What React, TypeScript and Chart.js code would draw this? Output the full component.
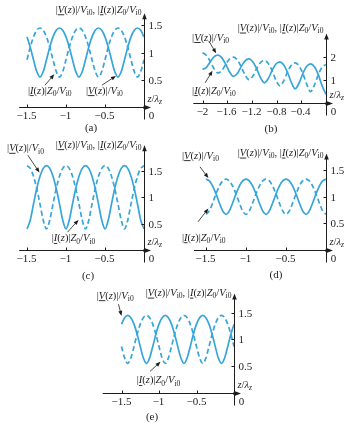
import { useEffect, useRef } from 'react';
import { Chart, registerables } from 'chart.js';

Chart.register(...registerables);

// ---------- data ----------
// z / lambda_z sample positions (step lambda/24) for panels a, c, d, e
const Z24 = [-1.5, -1.4583, -1.4167, -1.375, -1.3333, -1.2917, -1.25, -1.2083, -1.1667, -1.125, -1.0833, -1.0417,
  -1, -0.9583, -0.9167, -0.875, -0.8333, -0.7917, -0.75, -0.7083, -0.6667, -0.625, -0.5833, -0.5417,
  -0.5, -0.4583, -0.4167, -0.375, -0.3333, -0.2917, -0.25, -0.2083, -0.1667, -0.125, -0.0833, -0.0417, 0];
// z / lambda_z sample positions (step lambda/16) for panel b
const Z16 = [-2, -1.9375, -1.875, -1.8125, -1.75, -1.6875, -1.625, -1.5625, -1.5, -1.4375, -1.375, -1.3125,
  -1.25, -1.1875, -1.125, -1.0625, -1, -0.9375, -0.875, -0.8125, -0.75, -0.6875, -0.625, -0.5625,
  -0.5, -0.4375, -0.375, -0.3125, -0.25, -0.1875, -0.125, -0.0625, 0];

const A_V = [1.286, 1.097, 0.867, 0.65, 0.55, 0.65, 0.867, 1.097, 1.286, 1.408, 1.45, 1.408,
  1.286, 1.097, 0.867, 0.65, 0.55, 0.65, 0.867, 1.097, 1.286, 1.408, 1.45, 1.408,
  1.286, 1.097, 0.867, 0.65, 0.55, 0.65, 0.867, 1.097, 1.286, 1.408, 1.45, 1.408, 1.286];
const A_I = [0.867, 1.097, 1.286, 1.408, 1.45, 1.408, 1.286, 1.097, 0.867, 0.65, 0.55, 0.65,
  0.867, 1.097, 1.286, 1.408, 1.45, 1.408, 1.286, 1.097, 0.867, 0.65, 0.55, 0.65,
  0.867, 1.097, 1.286, 1.408, 1.45, 1.408, 1.286, 1.097, 0.867, 0.65, 0.55, 0.65, 0.867];

const B_V = [1.439, 1.5295, 1.7751, 1.9916, 2.0611, 1.9422, 1.6618, 1.3247, 1.1358, 1.261, 1.5595, 1.8103,
  1.894, 1.7717, 1.4681, 1.0837, 0.8572, 1.0293, 1.3875, 1.6713, 1.768, 1.6429, 1.3178, 0.881,
  0.5971, 0.8371, 1.2592, 1.5724, 1.6802, 1.5537, 1.2119, 0.7249, 0.35];
const B_I = [2.161, 2.0439, 1.7751, 1.4589, 1.2839, 1.3907, 1.6618, 1.8955, 1.9723, 1.8516, 1.5595, 1.1996,
  0.9938, 1.1405, 1.4681, 1.7357, 1.8261, 1.7022, 1.3875, 0.9772, 0.7252, 0.9278, 1.3178, 1.617,
  1.7194, 1.5935, 1.2592, 0.7962, 0.4723, 0.7588, 1.2119, 1.5375, 1.65];

const C_V = [0.4, 0.566, 0.872, 1.166, 1.4, 1.549, 1.6, 1.549, 1.4, 1.166, 0.872, 0.566,
  0.4, 0.566, 0.872, 1.166, 1.4, 1.549, 1.6, 1.549, 1.4, 1.166, 0.872, 0.566,
  0.4, 0.566, 0.872, 1.166, 1.4, 1.549, 1.6, 1.549, 1.4, 1.166, 0.872, 0.566, 0.4];
const C_I = [1.6, 1.549, 1.4, 1.166, 0.872, 0.566, 0.4, 0.566, 0.872, 1.166, 1.4, 1.549,
  1.6, 1.549, 1.4, 1.166, 0.872, 0.566, 0.4, 0.566, 0.872, 1.166, 1.4, 1.549,
  1.6, 1.549, 1.4, 1.166, 0.872, 0.566, 0.4, 0.566, 0.872, 1.166, 1.4, 1.549, 1.6];

const D_V = [1.33, 1.296, 1.2, 1.053, 0.883, 0.733, 0.67, 0.733, 0.883, 1.053, 1.2, 1.296,
  1.33, 1.296, 1.2, 1.053, 0.883, 0.733, 0.67, 0.733, 0.883, 1.053, 1.2, 1.296,
  1.33, 1.296, 1.2, 1.053, 0.883, 0.733, 0.67, 0.733, 0.883, 1.053, 1.2, 1.296, 1.33];
const D_I = [0.67, 0.733, 0.883, 1.053, 1.2, 1.296, 1.33, 1.296, 1.2, 1.053, 0.883, 0.733,
  0.67, 0.733, 0.883, 1.053, 1.2, 1.296, 1.33, 1.296, 1.2, 1.053, 0.883, 0.733,
  0.67, 0.733, 0.883, 1.053, 1.2, 1.296, 1.33, 1.296, 1.2, 1.053, 0.883, 0.733, 0.67];

const E_V = [1.286, 1.408, 1.45, 1.408, 1.286, 1.097, 0.867, 0.65, 0.55, 0.65, 0.867, 1.097,
  1.286, 1.408, 1.45, 1.408, 1.286, 1.097, 0.867, 0.65, 0.55, 0.65, 0.867, 1.097,
  1.286, 1.408, 1.45, 1.408, 1.286, 1.097, 0.867, 0.65, 0.55, 0.65, 0.867, 1.097, 1.286];
const E_I = [0.867, 0.65, 0.55, 0.65, 0.867, 1.097, 1.286, 1.408, 1.45, 1.408, 1.286, 1.097,
  0.867, 0.65, 0.55, 0.65, 0.867, 1.097, 1.286, 1.408, 1.45, 1.408, 1.286, 1.097,
  0.867, 0.65, 0.55, 0.65, 0.867, 1.097, 1.286, 1.408, 1.45, 1.408, 1.286, 1.097, 0.867];

const X_TICKS_15 = [-1.5, -1, -0.5];
const X_TICKS_B = [-2, -1.6, -1.2, -0.8, -0.4];
const Y_TICKS_15 = [0.5, 1, 1.5];
const Y_TICKS_B = [1, 2];
const CAPTIONS = ['(a)', '(b)', '(c)', '(d)', '(e)'];

// ---------- style ----------
const W = 355;
const H = 425;
const BLUE = '#36a5d9';
const INK = '#1d1d1d';
const SERIF = '"Liberation Serif", "Times New Roman", serif';

type Seg = { t: string; it?: boolean; sub?: boolean; ul?: boolean };
type Pt = [number, number];
type Lab = { at: Pt; tail: Pt; head: Pt };

const V_LABEL: Seg[] = [
  { t: '|' }, { t: 'V', it: true, ul: true }, { t: '(' }, { t: 'z', it: true }, { t: ')|/' },
  { t: 'V', it: true }, { t: 'i0', sub: true },
];
const I_LABEL: Seg[] = [
  { t: '|' }, { t: 'I', it: true, ul: true }, { t: '(' }, { t: 'z', it: true }, { t: ')|' },
  { t: 'Z', it: true }, { t: '0', sub: true }, { t: '/' }, { t: 'V', it: true }, { t: 'i0', sub: true },
];
const TITLE: Seg[] = [...V_LABEL, { t: ', ' }, ...I_LABEL];
const ZLAB: Seg[] = [{ t: 'z', it: true }, { t: '/' }, { t: '\u03bb', it: true }, { t: 'z', it: true, sub: true }];

type Panel = {
  x0: number; kx: number; y0: number; ky: number; xmin: number; ymax: number; titleDy: number;
  z: number[]; v: number[]; i: number[]; xt: number[]; yt: number[];
  cap: Pt; vLab: Lab; iLab: Lab;
};

const PANELS: Panel[] = [
  {
    x0: 144, kx: 78, y0: 107, ky: 54.5, xmin: -1.6, ymax: 1.72, titleDy: -4, z: Z24, v: A_V, i: A_I,
    xt: X_TICKS_15, yt: Y_TICKS_15, cap: [91, 128],
    vLab: { at: [-0.744, 0.31], tail: [-0.54, 0.4], head: [-0.36, 0.57] },
    iLab: { at: [-1.487, 0.31], tail: [-1.27, 0.4], head: [-1.15, 0.6] },
  },
  {
    x0: 326, kx: 61.7, y0: 102.5, ky: 23, xmin: -2.15, ymax: 3.0, titleDy: -6, z: Z16, v: B_V, i: B_I,
    xt: X_TICKS_B, yt: Y_TICKS_B, cap: [271, 129],
    vLab: { at: [-2.17, 2.85], tail: [-1.9, 2.68], head: [-1.78, 2.14] },
    iLab: { at: [-2.17, 0.54], tail: [-1.96, 0.85], head: [-1.84, 1.38] },
  },
  {
    x0: 144, kx: 78, y0: 250, ky: 52.7, xmin: -1.6, ymax: 1.99, titleDy: -1, z: Z24, v: C_V, i: C_I,
    xt: X_TICKS_15, yt: Y_TICKS_15, cap: [88, 276],
    vLab: { at: [-1.756, 1.94], tail: [-1.49, 1.8], head: [-1.34, 1.47] },
    iLab: { at: [-1.183, 0.23], tail: [-0.98, 0.34], head: [-0.84, 0.57] },
  },
  {
    x0: 326, kx: 80, y0: 250, ky: 53.3, xmin: -1.65, ymax: 1.81, titleDy: -1, z: Z24, v: D_V, i: D_I,
    xt: X_TICKS_15, yt: Y_TICKS_15, cap: [276, 275],
    vLab: { at: [-1.8, 1.78], tail: [-1.575, 1.56], head: [-1.47, 1.35] },
    iLab: { at: [-1.8, 0.24], tail: [-1.6, 0.53], head: [-1.47, 0.78] },
  },
  {
    x0: 234, kx: 75, y0: 392.7, ky: 53.3, xmin: -1.75, ymax: 1.86, titleDy: -1, z: Z24, v: E_V, i: E_I,
    xt: X_TICKS_15, yt: Y_TICKS_15, cap: [152, 417],
    vLab: { at: [-1.83, 1.83], tail: [-1.54, 1.66], head: [-1.5, 1.44] },
    iLab: { at: [-1.297, 0.24], tail: [-1.12, 0.4], head: [-0.98, 0.58] },
  },
];

function fmt(v: number): string {
  return v < 0 ? '\u2212' + String(-v) : String(v);
}

function drawRich(ctx: CanvasRenderingContext2D, segs: Seg[], x: number, yc: number, size: number, align: string) {
  const fontFor = (s: Seg) => `${s.it ? 'italic ' : ''}${s.sub ? (size * 0.72).toFixed(1) : size}px ${SERIF}`;
  const widths = segs.map((s) => {
    ctx.font = fontFor(s);
    return ctx.measureText(s.t).width;
  });
  const total = widths.reduce((a, b) => a + b, 0);
  let cx = align === 'right' ? x - total : align === 'center' ? x - total / 2 : x;
  const base = yc + size * 0.34;
  ctx.textAlign = 'left';
  ctx.textBaseline = 'alphabetic';
  segs.forEach((s, k) => {
    ctx.font = fontFor(s);
    ctx.fillText(s.t, cx, s.sub ? base + size * 0.22 : base);
    if (s.ul) ctx.fillRect(cx, base + 1.5, widths[k], 0.9);
    cx += widths[k];
  });
}

function arrow(ctx: CanvasRenderingContext2D, x1: number, y1: number, x2: number, y2: number) {
  const ang = Math.atan2(y2 - y1, x2 - x1);
  const len = 5;
  ctx.beginPath();
  ctx.moveTo(x1, y1);
  ctx.lineTo(x2 - Math.cos(ang) * len * 0.8, y2 - Math.sin(ang) * len * 0.8);
  ctx.stroke();
  ctx.beginPath();
  ctx.moveTo(x2, y2);
  ctx.lineTo(x2 - Math.cos(ang) * len + Math.sin(ang) * 2, y2 - Math.sin(ang) * len - Math.cos(ang) * 2);
  ctx.lineTo(x2 - Math.cos(ang) * len - Math.sin(ang) * 2, y2 - Math.sin(ang) * len + Math.cos(ang) * 2);
  ctx.closePath();
  ctx.fill();
}

function makeDecor(p: Panel, idx: number) {
  return {
    id: 'decor' + idx,
    afterDatasetsDraw(chart: any) {
      const { ctx, scales } = chart;
      const xs = scales.x;
      const ys = scales.y;
      const px = (v: number) => xs.getPixelForValue(v);
      const py = (v: number) => ys.getPixelForValue(v);
      const X0 = Math.round(px(0)) + 0.5;
      const Y0 = Math.round(py(0)) + 0.5;
      const L = px(xs.min);
      const R = px(xs.max);
      const T = py(ys.max);
      ctx.save();
      ctx.strokeStyle = INK;
      ctx.fillStyle = INK;
      ctx.lineWidth = 1;
      // x axis with arrow
      ctx.beginPath();
      ctx.moveTo(L, Y0);
      ctx.lineTo(R - 4, Y0);
      ctx.stroke();
      ctx.beginPath();
      ctx.moveTo(R, Y0);
      ctx.lineTo(R - 6, Y0 - 2.3);
      ctx.lineTo(R - 6, Y0 + 2.3);
      ctx.closePath();
      ctx.fill();
      // y axis with arrow
      ctx.beginPath();
      ctx.moveTo(X0, Y0 + 12);
      ctx.lineTo(X0, T + 4);
      ctx.stroke();
      ctx.beginPath();
      ctx.moveTo(X0, T);
      ctx.lineTo(X0 - 2.3, T + 6);
      ctx.lineTo(X0 + 2.3, T + 6);
      ctx.closePath();
      ctx.fill();
      // origin dot
      ctx.beginPath();
      ctx.arc(X0, Y0, 1.5, 0, Math.PI * 2);
      ctx.fill();
      // x ticks
      ctx.font = `11px ${SERIF}`;
      ctx.textAlign = 'center';
      ctx.textBaseline = 'middle';
      p.xt.forEach((v) => {
        const x = Math.round(px(v)) + 0.5;
        ctx.beginPath();
        ctx.moveTo(x, Y0);
        ctx.lineTo(x, Y0 - 3);
        ctx.stroke();
        ctx.fillText(fmt(v), x - 1, Y0 + 9);
      });
      ctx.fillText('0', X0 + 7, Y0 + 9);
      // y ticks
      ctx.textAlign = 'left';
      p.yt.forEach((v) => {
        const y = Math.round(py(v)) + 0.5;
        ctx.beginPath();
        ctx.moveTo(X0 - 3, y);
        ctx.lineTo(X0, y);
        ctx.stroke();
        ctx.fillText(String(v), X0 + 4, y + 0.5);
      });
      // axis labels
      drawRich(ctx, ZLAB, X0 + 3, Y0 - 9, 10.5, 'left');
      drawRich(ctx, TITLE, X0 - 3, T + p.titleDy, 10.5, 'right');
      // curve labels with arrows
      [p.vLab, p.iLab].forEach((lab, k) => {
        drawRich(ctx, k === 0 ? V_LABEL : I_LABEL, px(lab.at[0]), py(lab.at[1]), 10.5, 'left');
        ctx.lineWidth = 0.8;
        arrow(ctx, px(lab.tail[0]), py(lab.tail[1]), px(lab.head[0]), py(lab.head[1]));
        ctx.lineWidth = 1;
      });
      // caption
      ctx.font = `11px ${SERIF}`;
      ctx.textAlign = 'center';
      ctx.textBaseline = 'middle';
      ctx.fillText(CAPTIONS[idx], p.cap[0], p.cap[1]);
      ctx.restore();
    },
  };
}

export default function App() {
  const refs = useRef<(HTMLCanvasElement | null)[]>([]);

  useEffect(() => {
    const charts: Chart[] = [];
    PANELS.forEach((p, idx) => {
      const canvas = refs.current[idx];
      if (!canvas) return;
      const xmax = 7 / p.kx;
      const left = p.x0 + p.xmin * p.kx;
      const right = p.x0 + xmax * p.kx;
      const top = p.y0 - p.ymax * p.ky;
      const bottom = p.y0;
      const chart = new Chart(canvas, {
        type: 'line',
        data: {
          datasets: [
            {
              data: p.z.map((z, k) => ({ x: z, y: p.v[k] })),
              borderColor: BLUE,
              borderWidth: 1.7,
              pointRadius: 0,
              cubicInterpolationMode: 'monotone',
              fill: false,
            },
            {
              data: p.z.map((z, k) => ({ x: z, y: p.i[k] })),
              borderColor: BLUE,
              borderWidth: 1.7,
              borderDash: [5, 3],
              pointRadius: 0,
              cubicInterpolationMode: 'monotone',
              fill: false,
            },
          ],
        },
        options: {
          responsive: false,
          animation: false,
          events: [],
          layout: { padding: { left, top, right: W - right, bottom: H - bottom } },
          scales: {
            x: { type: 'linear', min: p.xmin, max: xmax, display: false },
            y: { type: 'linear', min: 0, max: p.ymax, display: false },
          },
          plugins: { legend: { display: false }, tooltip: { enabled: false } },
        },
        plugins: [makeDecor(p, idx)],
      } as any);
      charts.push(chart);
    });
    return () => charts.forEach((c) => c.destroy());
  }, []);

  return (
    <div style={{ position: 'absolute', left: 0, top: 0, width: W, height: H, background: '#fff' }}>
      {PANELS.map((_, idx) => (
        <canvas
          key={idx}
          ref={(el) => { refs.current[idx] = el; }}
          width={W}
          height={H}
          style={{ position: 'absolute', left: 0, top: 0, width: W, height: H }}
        />
      ))}
    </div>
  );
}
